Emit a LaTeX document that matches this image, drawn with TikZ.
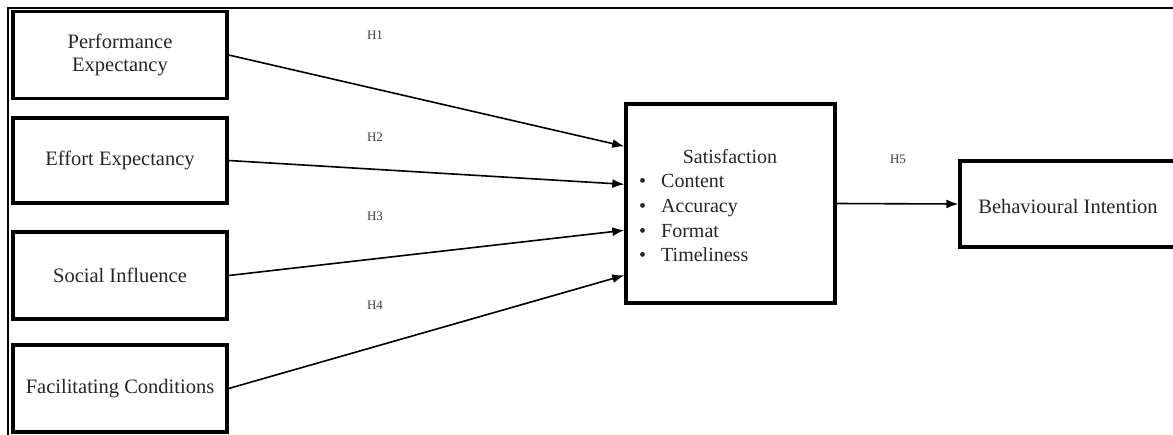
\documentclass[tikz,border=0pt]{standalone}
\usepackage{fontspec}
\setmainfont{Liberation Serif}
\usetikzlibrary{arrows.meta,calc}
\tikzset{
  concept/.style={draw=black, line width=3.4pt, minimum width=214pt, minimum height=87pt, inner sep=0pt, align=center, text=black!85, font=\fontsize{20.5}{23}\selectfont},
  hyp/.style={text=black!75, font=\fontsize{13}{14}\selectfont, inner sep=0pt},
  arr/.style={line width=1.6pt, -{Latex[length=12pt,width=9pt]}},
  itemtxt/.style={anchor=base west, inner sep=0pt, text=black!85, font=\fontsize{20}{24}\selectfont},
  frame/.style={line width=2.4pt}
}
\begin{document}
\begin{tikzpicture}[x=1pt,y=-1pt]
\useasboundingbox (0,0) rectangle (1173,434);
\clip (0,0) rectangle (1173,434);
\fill[white] (0,0) rectangle (1173,434);
% outer frame
\coordinate (ftl) at (8,8);
\coordinate (ftr) at (1175,8);
\coordinate (fbl) at (8,436);
\draw[frame] (ftr) -- (ftl) -- (fbl);
% left boxes
\node[concept] (pe) at (120,55) {Performance\\Expectancy};
\node[concept, minimum height=85pt] (ee) at (120,160.5) {Effort Expectancy};
\node[concept] (si) at (120,275.5) {Social Influence};
\node[concept] (fc) at (120,388.5) {Facilitating Conditions};
% satisfaction box
\node[concept, minimum width=209pt, minimum height=199pt] (sat) at (730.5,203.5) {};
\node[anchor=base, inner sep=0pt, text=black!85, font=\fontsize{20}{24}\selectfont] (sattitle) at (730,163) {Satisfaction};
\node[itemtxt] (b1) at (639,187) {\textbullet};
\node[itemtxt] (i1) at (661,187) {Content};
\node[itemtxt] (b2) at (639,212) {\textbullet};
\node[itemtxt] (i2) at (661,212) {Accuracy};
\node[itemtxt] (b3) at (639,237) {\textbullet};
\node[itemtxt] (i3) at (661,237) {Format};
\node[itemtxt] (b4) at (639,261) {\textbullet};
\node[itemtxt] (i4) at (661,261) {Timeliness};
% behavioural intention
\node[concept, minimum width=230pt, minimum height=86pt] (bi) at (1075,204) {};
\node[inner sep=0pt, text=black!85, font=\fontsize{20.5}{23}\selectfont] (bitxt) at (1068,206) {Behavioural Intention};
% hypothesis labels
\node[hyp] (h1) at (375,35) {H1};
\node[hyp] (h2) at (375,137) {H2};
\node[hyp] (h3) at (375,216) {H3};
\node[hyp] (h4) at (375,305) {H4};
\node[hyp] (h5) at (898,159) {H5};
% arrows
\draw[arr] (pe.east) -- ([yshift=-44pt]sat.north west);
\draw[arr] (ee.east) -- ([yshift=-82pt]sat.north west);
\draw[arr] (si.east) -- ([yshift=-128pt]sat.north west);
\draw[arr] (fc.east) -- ([yshift=-173pt]sat.north west);
\draw[arr] (sat.east) -- (bi.west);
\end{tikzpicture}
\end{document}
